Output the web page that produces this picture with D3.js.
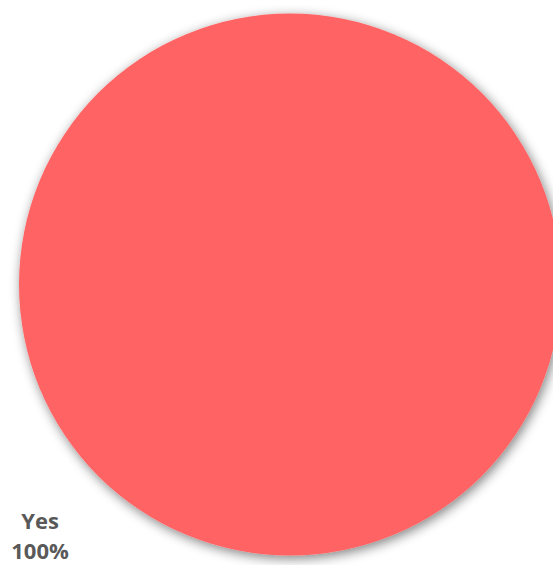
<!DOCTYPE html>
<html><head><meta charset="utf-8">
<script src="https://cdn.jsdelivr.net/npm/d3@7"></script>
<style>html,body{margin:0;padding:0;background:#fff;overflow:hidden}</style>
</head><body>
<svg id="chart" width="553" height="565"></svg>
<script>
const categories = ["Yes"];
const values = [100];
const colors = ["#FF6464"];

const svg = d3.select("#chart");
const cx = 290, cy = 284.5, r = 271;
const defs = svg.append("defs");
const f = defs.append("filter").attr("id","sh").attr("x","-20%").attr("y","-20%").attr("width","140%").attr("height","140%");
f.append("feGaussianBlur").attr("in","SourceAlpha").attr("stdDeviation",6).attr("result","b");
f.append("feOffset").attr("in","b").attr("dx",2).attr("dy",3).attr("result","o");
f.append("feComponentTransfer").attr("in","o").attr("result","o2").append("feFuncA").attr("type","linear").attr("slope",0.5);
const m = f.append("feMerge"); m.append("feMergeNode").attr("in","o2"); m.append("feMergeNode").attr("in","SourceGraphic");

const pie = d3.pie().sort(null)(values);
const arc = d3.arc().innerRadius(0).outerRadius(r);
const g = svg.append("g").attr("transform",`translate(${cx},${cy})`);
g.selectAll("path").data(pie).join("path")
  .attr("d",arc).attr("fill",(d,i)=>colors[i]).attr("filter","url(#sh)");

const total = d3.sum(values);
const lab = svg.append("g").attr("font-family","Open Sans, Liberation Sans, sans-serif")
  .attr("font-weight","bold").attr("font-size","22px").attr("fill","#595959").attr("text-anchor","middle");
categories.forEach((c,i)=>{
  lab.append("text").attr("x",40).attr("y",529).text(c);
  lab.append("text").attr("x",40).attr("y",559).text(d3.format(".0%")(values[i]/total));
});
</script>
</body></html>
